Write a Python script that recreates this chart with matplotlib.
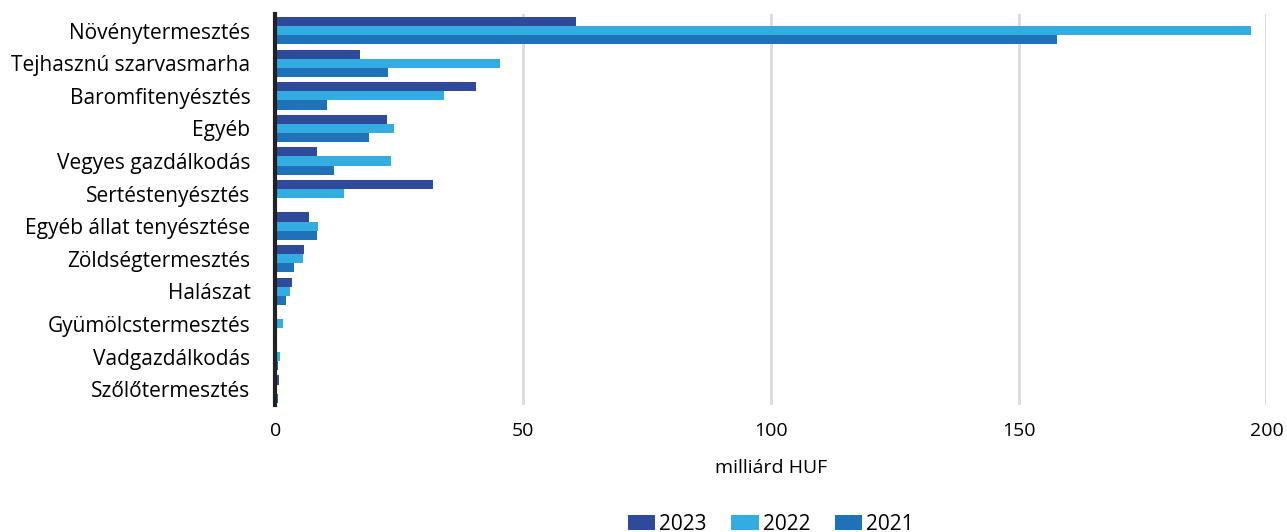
import numpy as np
import matplotlib.pyplot as plt

categories = ['Növénytermesztés', 'Tejhasznú szarvasmarha', 'Baromfitenyésztés', 'Egyéb',
              'Vegyes gazdálkodás', 'Sertéstenyésztés', 'Egyéb állat tenyésztése',
              'Zöldségtermesztés', 'Halászat', 'Gyümölcstermesztés', 'Vadgazdálkodás',
              'Szőlőtermesztés']
v2023 = [60.7, 17.0, 40.4, 22.6, 8.3, 31.9, 6.7, 5.8, 3.4, 0.0, 0.2, 0.75]
v2022 = [196.8, 45.4, 34.1, 24.0, 23.4, 13.9, 8.6, 5.5, 3.0, 1.6, 0.9, 0.4]
v2021 = [157.7, 22.8, 10.5, 18.8, 11.9, 0.0, 8.3, 3.7, 2.1, 0.0, 0.5, 0.55]
series = [('2023', v2023, '#2E4B9B'), ('2022', v2022, '#33ACE2'), ('2021', v2021, '#1F71B8')]

plt.rcParams['font.family'] = ['Open Sans', 'DejaVu Sans']
fs = 14

fig = plt.figure(figsize=(12.87, 5.32), dpi=100)
ax = fig.add_axes([0.214, 0.238, 0.77, 0.735])

y = np.arange(len(categories))
h = 0.28
for i, (name, vals, col) in enumerate(series):
    ax.barh(y + (i - 1) * h, vals, height=h, color=col, label=name, zorder=3)

ax.set_ylim(len(categories) - 0.5, -0.5)
ax.set_yticks(y)
ax.set_yticklabels(categories, fontsize=15)
ax.set_xlim(0, 200)
ax.set_xticks([0, 50, 100, 150, 200])
ax.tick_params(axis='x', labelsize=fs, length=0, pad=12)
ax.tick_params(axis='y', length=0, pad=18)
ax.grid(axis='x', color='#d9d9d9', linewidth=2, zorder=0)
for s in ['top', 'right', 'bottom']:
    ax.spines[s].set_visible(False)
ax.spines['left'].set_linewidth(3)
ax.spines['left'].set_color('#222222')
ax.spines['left'].set_zorder(4)
ax.set_xlabel('milliárd HUF', fontsize=fs, labelpad=14)

fig.legend(loc='lower center', bbox_to_anchor=(0.599, -0.04), ncol=3, frameon=False,
           fontsize=fs + 1, handlelength=1.3, handleheight=0.75, columnspacing=1.2,
           handletextpad=0.2)

fig.savefig('out.png', dpi=100)
